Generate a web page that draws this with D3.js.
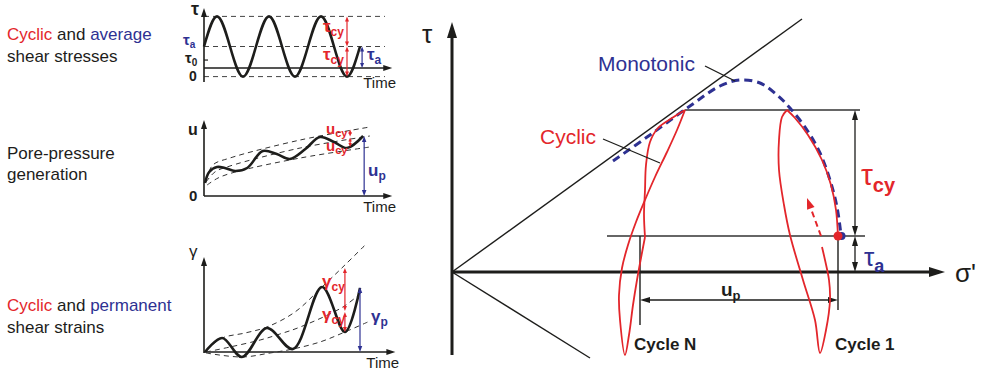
<!DOCTYPE html>
<html>
<head>
<meta charset="utf-8">
<script src="https://cdn.jsdelivr.net/npm/d3@7"></script>
<style>
  body { margin: 0; background: #fff; }
  svg { display: block; font-family: "Liberation Sans", Arial, sans-serif; }
</style>
</head>
<body>
<svg id="chart" width="988" height="370"></svg>
<script>
// colours
var RED = "#e3262b", BLUE = "#2e3192", INK = "#1d1d1b";

// ---- small panel data (time in load cycles) ----
var stressT   = [0, 0.25, 0.5, 0.75, 1, 1.25, 1.5, 1.75, 2, 2.25, 2.5, 2.75, 3];
var stressTau = [1, 2.4, 1, -0.4, 1, 2.4, 1, -0.4, 1, 2.4, 1, -0.4, 1];
var stressLevels = [2.4, 1, -0.4];          // top, average, bottom dashed
var tauZeroTick = 0.37;

var poreT = [0.02, 0.1, 0.25, 0.4, 0.6, 0.83, 1.13, 1.4, 1.65, 1.95, 2.23, 2.5, 2.75, 3.06];
var poreU = [1.3, 2.4, 2.9, 2.8, 2.5, 2.8, 4.5, 4.2, 3.7, 4.7, 5.9, 5.4, 4.8, 6.0];
var poreUpper = [[0.04, 1.6], [0.17, 3.1], [0.5, 3.8], [1.85, 5.6], [3.19, 6.9]];
var poreMid   = [[0.04, 1.4], [0.21, 2.4], [0.5, 3.0], [1.85, 4.8], [3.19, 6.0]];
var poreLower = [[0.06, 1.1], [0.27, 1.8], [0.6, 2.4], [1.85, 3.8], [3.19, 4.9]];

var strainT = [0.02, 0.35, 0.73, 1.21, 1.71, 2.27, 2.71, 3.0];
var strainG = [0, 1.4, -0.5, 2.4, 0.3, 6.5, 2.0, 6.4];
var strainUpper = [[0.04, 0.2], [0.35, 1.4], [0.79, 1.9], [1.21, 2.5], [1.75, 4.0], [2.27, 6.5], [2.71, 8.7], [3.1, 10.7]];
var strainMid   = [[0.04, 0], [0.5, 0.5], [1.08, 1.2], [1.46, 1.8], [1.85, 2.5], [2.67, 4.5], [3.04, 6.0]];
var strainLower = [[0.04, -0.1], [0.73, -0.5], [1.27, -0.1], [1.71, 0.3], [2.23, 1.0], [2.71, 2.0], [3.15, 3.0]];

// ---- main stress-path data (sigma', tau) ----
var envelopeUp   = [[0, 0], [35, 25.3]];
var envelopeDown = [[0, 0], [13.8, -8.6]];
var monotonic = [[16.1, 11.1], [19.8, 13.7], [23.8, 16.6], [26.8, 18.6], [28.8, 19.2], [30.8, 18.9],
                 [32.5, 17.7], [33.8, 16.4], [35.5, 14.2], [36.8, 11.9], [37.8, 9.2], [38.5, 6.5], [38.9, 3.7]];
var cycle1Load   = [[38.6, 3.5], [38.4, 6.2], [37.9, 8.7], [37.0, 11.2], [35.6, 13.7], [34.3, 15.4], [33.5, 16.2]];
var cycle1Unload = [[33.5, 16.2], [33.0, 15.5], [32.7, 13.2], [32.7, 10.2], [33.2, 6.7], [33.8, 3.7], [35.1, -0.8],
                    [36.3, -4.8], [36.8, -8.1], [37.4, -5.8], [37.8, -2.8], [37.7, -0.8], [37.3, 1.2], [37.0, 2.5]];
var cycle1Next   = [[36.9, 3.6], [35.5, 7.4]];
var cycleNLoad   = [[19.3, 3.5], [19.2, 5.7], [19.3, 8.2], [19.4, 10.7], [19.8, 13.0], [20.6, 14.4], [22.0, 15.4], [23.3, 16.2]];
var cycleNUnload = [[23.3, 16.2], [22.5, 14.2], [21.5, 12.0], [20.3, 9.5], [19.3, 7.2], [18.4, 5.0], [17.6, 2.7],
                    [17.0, 0.4], [16.7, -2.3], [16.8, -4.8], [17.3, -8.3], [17.7, -6.3], [18.1, -3.3],
                    [18.5, -0.8], [18.9, 1.4], [19.3, 3.5]];
var tauMax = 16.2, tauAvg = 3.6;
var sigmaStart = 38.6, sigmaN = 18.8, upLevel = -2.8;
var monoLeader = [[25.3, 20.6], [28.3, 19.1]];
var cyclicLeader = [[15.1, 13.3], [20.8, 10.9]];

var svg = d3.select("#chart");

// helpers
function head(g, x, y, ang, len, wid, color) {
  var c = Math.cos(ang), s = Math.sin(ang);
  var bx = x - c * len, by = y - s * len;
  var pts = [[x, y], [bx - s * wid / 2, by + c * wid / 2], [bx + s * wid / 2, by - c * wid / 2]];
  g.append("polygon").attr("points", pts.map(function(p) { return p.join(","); }).join(" ")).attr("fill", color);
}
function arrow(g, p1, p2, o) {
  var ang = Math.atan2(p2[1] - p1[1], p2[0] - p1[0]);
  var c = Math.cos(ang), s = Math.sin(ang), cut = o.len * 0.7;
  var a = o.both ? [p1[0] + c * cut, p1[1] + s * cut] : p1;
  var b = [p2[0] - c * cut, p2[1] - s * cut];
  g.append("line").attr("x1", a[0]).attr("y1", a[1]).attr("x2", b[0]).attr("y2", b[1])
    .attr("stroke", o.color).attr("stroke-width", o.width).attr("stroke-dasharray", o.dash || null);
  head(g, p2[0], p2[1], ang, o.len, o.wid, o.color);
  if (o.both) head(g, p1[0], p1[1], ang + Math.PI, o.len, o.wid, o.color);
}
function sub(g, x, y, main, s, color, size, subSize, bold, subBold) {
  var t = g.append("text").attr("x", x).attr("y", y).attr("fill", color)
    .attr("font-size", size).attr("font-weight", bold ? "bold" : null);
  t.append("tspan").text(main);
  t.append("tspan").attr("dy", size * 0.22).attr("font-size", subSize)
    .attr("font-weight", subBold ? "bold" : null).text(s);
}
function words(g, x, y, parts, size) {
  var t = g.append("text").attr("x", x).attr("y", y).attr("font-size", size);
  parts.forEach(function(p) { t.append("tspan").attr("fill", p[1]).text(p[0]); });
}
function pathOf(xs, ys, curve) {
  return d3.line().x(function(d) { return xs(d[0]); }).y(function(d) { return ys(d[1]); }).curve(curve || d3.curveLinear);
}

// ---- left panels ----
var left = svg.append("g");
var xt = d3.scaleLinear().domain([0, 3]).range([204, 360]);

words(left, 7, 40, [["Cyclic", RED], [" and ", INK], ["average", BLUE]], 17);
words(left, 7, 62, [["shear stresses", INK]], 17);
words(left, 7, 159, [["Pore-pressure", INK]], 17);
words(left, 7, 180, [["generation", INK]], 17);
words(left, 7, 311, [["Cyclic", RED], [" and ", INK], ["permanent", BLUE]], 17);
words(left, 7, 333, [["shear strains", INK]], 17);

function smallAxes(g, ys, yLo, yHi, xEnd, timeY) {
  arrow(g, [xt(0), ys(yLo)], [xt(0), ys(yHi)], {color: INK, width: 1.6, len: 9, wid: 6});
  arrow(g, [xt(0), ys(0)], [xt(xEnd), ys(0)], {color: INK, width: 1.6, len: 9, wid: 6});
  g.append("text").attr("x", xt(xEnd) - 29).attr("y", timeY).attr("font-size", 15).attr("fill", INK).text("Time");
}
function dashed(g, xs, ys, pts) {
  g.append("path").attr("d", pathOf(xs, ys, d3.curveCatmullRom)(pts))
    .attr("fill", "none").attr("stroke", "#333").attr("stroke-width", 1).attr("stroke-dasharray", "5,4");
}
function thick(g, xs, ys, pts, curve) {
  g.append("path").attr("d", pathOf(xs, ys, curve)(pts))
    .attr("fill", "none").attr("stroke", INK).attr("stroke-width", 2.6).attr("stroke-linejoin", "round");
}

// panel 1: shear stress
var p1 = left.append("g");
var ys1 = d3.scaleLinear().domain([0, 1]).range([68, 46.5]);
stressLevels.forEach(function(v) {
  p1.append("line").attr("x1", xt(0)).attr("x2", xt(3.48)).attr("y1", ys1(v)).attr("y2", ys1(v))
    .attr("stroke", "#444").attr("stroke-width", 1).attr("stroke-dasharray", "5,4");
});
smallAxes(p1, ys1, -0.65, 2.79, 3.62, 88);
p1.append("line").attr("x1", xt(0)).attr("x2", xt(0) + 4).attr("y1", ys1(tauZeroTick)).attr("y2", ys1(tauZeroTick))
  .attr("stroke", INK).attr("stroke-width", 1.2);
thick(p1, xt, ys1, d3.zip(stressT, stressTau), d3.curveNatural);
arrow(p1, [xt(2.75), ys1(1)], [xt(2.75), ys1(2.4)], {color: RED, width: 1.2, len: 5, wid: 4, both: true});
arrow(p1, [xt(2.75), ys1(-0.4)], [xt(2.75), ys1(1)], {color: RED, width: 1.2, len: 5, wid: 4, both: true});
arrow(p1, [xt(3.04), ys1(0)], [xt(3.04), ys1(1)], {color: BLUE, width: 1.2, len: 5, wid: 4, both: true});
p1.append("text").attr("x", 191).attr("y", 15).attr("font-size", 18).attr("font-weight", "bold").attr("fill", INK).text("τ");
sub(p1, 183, 45, "τ", "a", BLUE, 15, 10, true, true);
sub(p1, 185, 63, "τ", "0", INK, 15, 10, true, true);
p1.append("text").attr("x", 189).attr("y", 81).attr("font-size", 14).attr("font-weight", "bold").attr("fill", INK).text("0");
sub(p1, 323, 32, "τ", "cy", RED, 17, 12, true, true);
sub(p1, 323, 60, "τ", "cy", RED, 17, 12, true, true);
sub(p1, 367, 60, "τ", "a", BLUE, 17, 12, true, true);

// panel 2: pore pressure
var p2 = left.append("g");
var ys2 = d3.scaleLinear().domain([0, 1]).range([196, 186]);
smallAxes(p2, ys2, 0, 7.6, 3.62, 212);
dashed(p2, xt, ys2, poreUpper);
dashed(p2, xt, ys2, poreMid);
dashed(p2, xt, ys2, poreLower);
thick(p2, xt, ys2, d3.zip(poreT, poreU), d3.curveCatmullRom);
arrow(p2, [xt(2.81), ys2(5.95)], [xt(2.81), ys2(6.65)], {color: RED, width: 1.2, len: 4, wid: 3.5, both: true});
arrow(p2, [xt(2.81), ys2(4.9)], [xt(2.81), ys2(5.85)], {color: RED, width: 1.2, len: 4, wid: 3.5, both: true});
arrow(p2, [xt(3.08), ys2(0)], [xt(3.08), ys2(6.0)], {color: BLUE, width: 1.2, len: 6, wid: 4.5, both: true});
p2.append("text").attr("x", 188).attr("y", 135).attr("font-size", 16).attr("font-weight", "bold").attr("fill", INK).text("u");
p2.append("text").attr("x", 189).attr("y", 201).attr("font-size", 15).attr("font-weight", "bold").attr("fill", INK).text("0");
sub(p2, 326, 134, "u", "cy", RED, 15, 11, true, true);
sub(p2, 326, 151, "u", "cy", RED, 15, 11, true, true);
sub(p2, 368, 176, "u", "p", BLUE, 17, 12, true, true);

// panel 3: shear strain
var p3 = left.append("g");
var ys3 = d3.scaleLinear().domain([0, 1]).range([352, 342]);
smallAxes(p3, ys3, -0.1, 9.5, 3.68, 368);
dashed(p3, xt, ys3, strainUpper);
dashed(p3, xt, ys3, strainMid);
dashed(p3, xt, ys3, strainLower);
thick(p3, xt, ys3, d3.zip(strainT, strainG), d3.curveCatmullRom);
arrow(p3, [xt(2.71), ys3(4.1)], [xt(2.71), ys3(8.4)], {color: RED, width: 1.2, len: 5, wid: 4, both: true});
arrow(p3, [xt(2.71), ys3(2.0)], [xt(2.71), ys3(4.0)], {color: RED, width: 1.2, len: 5, wid: 4, both: true});
arrow(p3, [xt(3.0), ys3(0)], [xt(3.0), ys3(6.5)], {color: BLUE, width: 1.2, len: 6, wid: 4.5, both: true});
p3.append("text").attr("x", 189).attr("y", 257).attr("font-size", 17).attr("fill", INK).text("γ");
sub(p3, 322, 287, "γ", "cy", RED, 17, 12, true, true);
sub(p3, 322, 320, "γ", "cy", RED, 17, 12, true, true);
sub(p3, 371, 322, "γ", "p", BLUE, 17, 12, true, true);

// ---- main diagram ----
var main = svg.append("g");
var mx = d3.scaleLinear().domain([0, 49.3]).range([452, 945]);
var my = d3.scaleLinear().domain([0, 25]).range([272, 22]);
var mline = pathOf(mx, my);
var mcurve = pathOf(mx, my, d3.curveCatmullRom);

// envelopes
[envelopeUp, envelopeDown].forEach(function(e) {
  main.append("path").attr("d", mline(e)).attr("stroke", INK).attr("stroke-width", 1.4).attr("fill", "none");
});
// reference lines
main.append("line").attr("x1", mx(23.3)).attr("x2", mx(40.8)).attr("y1", my(tauMax)).attr("y2", my(tauMax))
  .attr("stroke", "#333").attr("stroke-width", 1.3);
main.append("line").attr("x1", mx(15.5)).attr("x2", mx(41.3)).attr("y1", my(tauAvg)).attr("y2", my(tauAvg))
  .attr("stroke", "#333").attr("stroke-width", 1.3);
main.append("line").attr("x1", mx(sigmaN)).attr("x2", mx(sigmaN)).attr("y1", my(tauAvg)).attr("y2", my(-5.3))
  .attr("stroke", INK).attr("stroke-width", 1.4);
main.append("line").attr("x1", mx(sigmaStart)).attr("x2", mx(sigmaStart)).attr("y1", my(tauAvg)).attr("y2", my(-3.8))
  .attr("stroke", INK).attr("stroke-width", 1.4);

// axes
arrow(main, [mx(0), my(-8.3)], [mx(0), my(25)], {color: INK, width: 3, len: 16, wid: 10});
arrow(main, [mx(0), my(0)], [mx(49.3), my(0)], {color: INK, width: 3, len: 16, wid: 10});

// dimension arrows
arrow(main, [mx(40.3), my(tauAvg)], [mx(40.3), my(tauMax)], {color: INK, width: 1.3, len: 10, wid: 6, both: true});
arrow(main, [mx(40.3), my(0)], [mx(40.3), my(tauAvg)], {color: INK, width: 1.3, len: 10, wid: 6, both: true});
arrow(main, [mx(sigmaN), my(upLevel)], [mx(sigmaStart), my(upLevel)], {color: INK, width: 1.3, len: 10, wid: 6, both: true});

// monotonic path
main.append("path").attr("d", mcurve(monotonic)).attr("fill", "none").attr("stroke", BLUE)
  .attr("stroke-width", 3).attr("stroke-dasharray", "8,5");

// cyclic loops
[cycleNLoad, cycleNUnload, cycle1Load, cycle1Unload].forEach(function(c) {
  main.append("path").attr("d", mcurve(c)).attr("fill", "none").attr("stroke", RED)
    .attr("stroke-width", 1.8).attr("stroke-linejoin", "round");
});
arrow(main, [mx(cycle1Next[0][0]), my(cycle1Next[0][1])], [mx(cycle1Next[1][0]), my(cycle1Next[1][1])],
  {color: RED, width: 2, len: 11, wid: 8, dash: "6,4"});

// start point
main.append("circle").attr("cx", mx(38.95)).attr("cy", my(tauAvg)).attr("r", 4).attr("fill", BLUE);
main.append("circle").attr("cx", mx(sigmaStart)).attr("cy", my(tauAvg)).attr("r", 4.5).attr("fill", RED);

// leaders
[monoLeader, cyclicLeader].forEach(function(l) {
  main.append("path").attr("d", mline(l)).attr("stroke", INK).attr("stroke-width", 1.3).attr("fill", "none");
});

// labels
main.append("text").attr("x", 422).attr("y", 43).attr("font-size", 26).attr("fill", INK).text("τ");
main.append("text").attr("x", 955).attr("y", 282).attr("font-size", 26).attr("fill", INK).text("σ'");
main.append("text").attr("x", 598).attr("y", 71).attr("font-size", 21).attr("fill", BLUE).text("Monotonic");
main.append("text").attr("x", 540).attr("y", 144).attr("font-size", 21).attr("fill", RED).text("Cyclic");
sub(main, 861, 185, "τ", "cy", RED, 30, 20, false, true);
sub(main, 864, 266, "τ", "a", BLUE, 26, 18, false, true);
sub(main, 721, 296, "u", "p", INK, 19, 13, true, true);
main.append("text").attr("x", 634).attr("y", 350).attr("font-size", 17).attr("font-weight", "bold").attr("fill", INK).text("Cycle N");
main.append("text").attr("x", 835).attr("y", 350).attr("font-size", 17).attr("font-weight", "bold").attr("fill", INK).text("Cycle 1");
</script>
</body>
</html>
